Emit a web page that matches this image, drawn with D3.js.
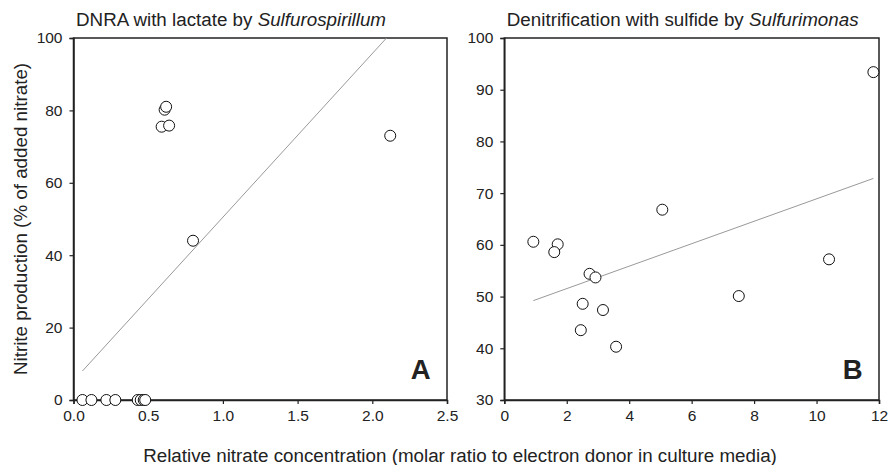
<!DOCTYPE html>
<html>
<head>
<meta charset="utf-8">
<script src="https://cdn.jsdelivr.net/npm/d3@7"></script>
<style>
  body { margin: 0; background: #fff; }
  text { font-family: "Liberation Sans", Arial, sans-serif; fill: #222; }
</style>
</head>
<body>
<div id="chart"></div>
<script>
// panel A: DNRA with lactate
const dnraX = [0.06, 0.12, 0.22, 0.28, 0.43, 0.45, 0.47, 0.48, 0.61, 0.62, 0.59, 0.64, 0.80, 2.12];
const dnraY = [0, 0, 0, 0, 0, 0, 0, 0, 80.2, 81.0, 75.5, 75.8, 44.0, 73.0];
const dnraFit = {intercept: 5.3, slope: 45.2, from: 0.06};

// panel B: denitrification with sulfide
const denitX = [0.93, 1.71, 1.60, 2.73, 2.92, 2.51, 3.16, 2.45, 3.58, 5.06, 7.51, 10.4, 11.82];
const denitY = [60.6, 60.1, 58.6, 54.4, 53.7, 48.6, 47.4, 43.5, 40.3, 66.8, 50.1, 57.2, 93.4];
const denitFit = {intercept: 47.2, slope: 2.17, from: 0.93, to: 11.82};

const ticksA = {x: [0, 0.5, 1.0, 1.5, 2.0, 2.5], y: [0, 20, 40, 60, 80, 100]};
const ticksB = {x: [0, 2, 4, 6, 8, 10, 12], y: [30, 40, 50, 60, 70, 80, 90, 100]};

const W = 889, H = 465;
const plotTop = 38, plotBottom = 400;

const svg = d3.select("#chart").append("svg")
  .attr("width", W)
  .attr("height", H);

const panels = [
  {
    left: 73.5, right: 447, xDomain: [0, 2.5], yDomain: [0, 100],
    xs: dnraX, ys: dnraY, fit: dnraFit, ticks: ticksA, xFmt: d3.format(".1f"),
    letter: "A", titlePre: "DNRA with lactate by ", titleIt: "Sulfurospirillum"
  },
  {
    left: 504.3, right: 879, xDomain: [0, 12], yDomain: [30, 100],
    xs: denitX, ys: denitY, fit: denitFit, ticks: ticksB, xFmt: d3.format("d"),
    letter: "B", titlePre: "Denitrification with sulfide by ", titleIt: "Sulfurimonas"
  }
];

panels.forEach(p => {
  const x = d3.scaleLinear().domain(p.xDomain).range([p.left, p.right]);
  const y = d3.scaleLinear().domain(p.yDomain).range([plotBottom, plotTop]);
  const g = svg.append("g");

  // frame
  g.append("rect")
    .attr("x", p.left).attr("y", plotTop)
    .attr("width", p.right - p.left).attr("height", plotBottom - plotTop)
    .attr("fill", "none").attr("stroke", "#222").attr("stroke-width", 1.5);

  const xAxis = g.append("g")
    .attr("transform", `translate(0,${plotBottom})`)
    .call(d3.axisBottom(x).tickValues(p.ticks.x).tickFormat(p.xFmt).tickSize(4).tickPadding(6));
  const yAxis = g.append("g")
    .attr("transform", `translate(${p.left},0)`)
    .call(d3.axisLeft(y).tickValues(p.ticks.y).tickSize(4).tickPadding(7));

  [xAxis, yAxis].forEach(a => {
    a.select(".domain").attr("stroke", "#222").attr("stroke-width", 1.5);
    a.selectAll(".tick line").attr("stroke", "#222").attr("stroke-width", 1.2);
    a.selectAll(".tick text")
      .style("font-family", '"Liberation Sans", Arial, sans-serif')
      .style("font-size", "15.5px").attr("fill", "#222");
  });

  // regression line
  const fitTo = p.fit.to !== undefined ? p.fit.to : (p.yDomain[1] - p.fit.intercept) / p.fit.slope;
  g.append("line")
    .attr("x1", x(p.fit.from)).attr("y1", y(p.fit.intercept + p.fit.slope * p.fit.from))
    .attr("x2", x(fitTo)).attr("y2", y(p.fit.intercept + p.fit.slope * fitTo))
    .attr("stroke", "#999").attr("stroke-width", 1);

  // points
  g.selectAll("circle")
    .data(p.xs.map((v, i) => [v, p.ys[i]]))
    .enter().append("circle")
      .attr("cx", d => x(d[0]))
      .attr("cy", d => y(d[1]))
      .attr("r", 5.5)
      .attr("fill", "#fff")
      .attr("stroke", "#111")
      .attr("stroke-width", 1);

  // panel letter
  g.append("text")
    .attr("x", p.right - 16.5).attr("y", 378.5)
    .attr("text-anchor", "end")
    .style("font-size", "27.5px").style("font-weight", "bold")
    .attr("fill", "#111")
    .text(p.letter);

  // title
  const t = g.append("text")
    .attr("x", p.left + 2.5).attr("y", 26)
    .style("font-size", "18.8px");
  t.append("tspan").text(p.titlePre);
  t.append("tspan").style("font-style", "italic").text(p.titleIt);
});

svg.append("text")
  .attr("transform", `translate(27,${(plotTop + plotBottom) / 2}) rotate(-90)`)
  .attr("text-anchor", "middle")
  .style("font-size", "18.8px")
  .text("Nitrite production (% of added nitrate)");

svg.append("text")
  .attr("x", 460).attr("y", 462)
  .attr("text-anchor", "middle")
  .style("font-size", "18.8px")
  .text("Relative nitrate concentration (molar ratio to electron donor in culture media)");
</script>
</body>
</html>
